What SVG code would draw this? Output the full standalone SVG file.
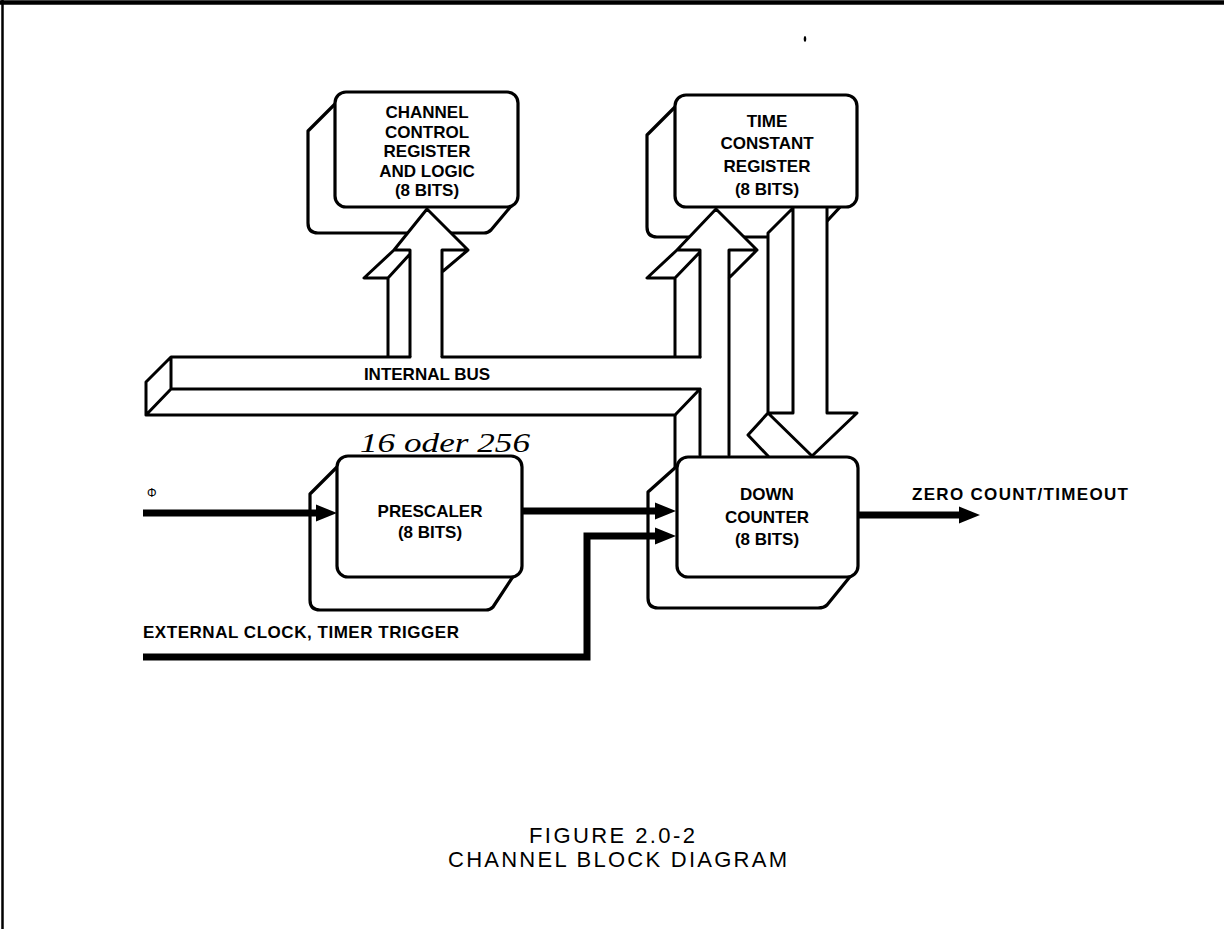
<svg xmlns="http://www.w3.org/2000/svg" width="1224" height="929" viewBox="0 0 1224 929">
<defs>
<style>
.ln{fill:none;stroke:#000;stroke-width:3;stroke-linejoin:round;stroke-linecap:round}
.wf{fill:#fff;stroke:none}
.box{fill:#fff;stroke:#000;stroke-width:3.2;stroke-linejoin:round}
.thick{fill:none;stroke:#000;stroke-width:7;stroke-linejoin:miter}
.lbl{font-family:"Liberation Sans",Arial,sans-serif;font-weight:bold;font-size:17px;fill:#000}
.mid{text-anchor:middle}
.cap{font-family:"Liberation Sans",Arial,sans-serif;font-size:22px;fill:#000}
.hand{font-family:"Liberation Serif","DejaVu Serif",serif;font-style:italic;font-size:27px;fill:#000}
</style>
<marker id="ah" markerUnits="userSpaceOnUse" markerWidth="24" markerHeight="20" viewBox="0 -10 24 20" refX="1" refY="0" orient="auto">
<path d="M0,-8.5 L21,0 L0,8.5 z" fill="#000"/>
</marker>
</defs>
<rect x="0" y="0" width="1224" height="929" fill="#fff"/>
<g id="frame">
<path d="M0,2.5 H1224" stroke="#000" stroke-width="4.5"/>
<path d="M2.5,0 V929" stroke="#000" stroke-width="2.5"/>
<ellipse cx="805" cy="39" rx="1.3" ry="3" fill="#000"/>
</g>

<g id="channel-control">
<path class="box" d="M341,98 L308,131 L308,223 Q308,233 318,233 L484,233 Q488,233 491,230 L512,205 Z"/>
<rect class="box" x="335" y="92" width="183" height="115" rx="11"/>
<text class="lbl mid" x="427" y="118">CHANNEL</text>
<text class="lbl mid" x="427" y="138">CONTROL</text>
<text class="lbl mid" x="427" y="157">REGISTER</text>
<text class="lbl mid" x="427" y="177">AND LOGIC</text>
<text class="lbl mid" x="427" y="196">(8 BITS)</text>
</g>

<g id="time-constant">
<path class="box" d="M681,101 L647,135 L647,227 Q647,237 657,237 L806,237 Q812,237 815,234 L842,205 Z"/>
<rect class="box" x="675" y="95" width="182" height="112" rx="11"/>
<text class="lbl mid" x="767" y="127">TIME</text>
<text class="lbl mid" x="767" y="149">CONSTANT</text>
<text class="lbl mid" x="767" y="172">REGISTER</text>
<text class="lbl mid" x="767" y="195">(8 BITS)</text>
</g>

<g id="prescaler">
<path class="box" d="M344,460 L310,494 L310,600 Q310,610 320,610 L486,610 Q490,610 493,607 L514,575 Z"/>
<rect class="box" x="337" y="456" width="185" height="121" rx="11"/>
<text class="lbl mid" x="430" y="517">PRESCALER</text>
<text class="lbl mid" x="430" y="538">(8 BITS)</text>
<text class="hand" x="360" y="452" textLength="170" lengthAdjust="spacingAndGlyphs">16 oder 256</text>
</g>

<g id="down-counter">
<path class="box" d="M686,458 L648,492 L648,598 Q648,608 658,608 L818,608 Q824,608 827,605 L853,573 Z"/>
<rect class="box" x="677" y="457" width="181" height="120" rx="11"/>
<text class="lbl mid" x="767" y="500">DOWN</text>
<text class="lbl mid" x="767" y="523">COUNTER</text>
<text class="lbl mid" x="767" y="545">(8 BITS)</text>
</g>

<g id="connectors">
<polygon class="wf" points="427,209 468,250 442,272 442,357 388,357 388,278 364,278 394,250"/>
<path class="ln" d="M394,250 L427,209 L468,250 L442,272 M442,250 H468 M442,250 V357 M410,250 V357 M394,250 H410 M394,250 L364,278 H388 L410,254 M388,278 V357"/>
<polygon class="wf" points="716,209 757,250 729,278 729,455 675,455 675,278 647,278 677,250"/>
<path class="ln" d="M677,250 L716,209 L757,250 L729,278 M729,250 H757 M729,250 V455 M700,250 V357 M700,389 V455 M677,250 H700 M677,250 L647,278 H675 L700,252 M675,278 V357 M675,415 V467"/>
<polygon class="wf" points="793,209 827,209 827,413 857,413 812,455 769,455 748,435 768,413 768,233"/>
<path class="ln" d="M793,208 V413 H768 V233 Z M827,208 V413 H857 L812,456 M768,413 L812,456 M768,413 L748,435 L768,456"/>
<path class="thick" d="M143,513 H317" marker-end="url(#ah)"/>
<path class="thick" d="M522,511 H656" marker-end="url(#ah)"/>
<path class="thick" d="M143,657 H587 V536 H656" marker-end="url(#ah)"/>
<path class="thick" d="M858,515 H960" marker-end="url(#ah)"/>
</g>

<g id="internal-bus">
<polygon class="wf" points="171,357 700,357 700,389 675,415 146,415 146,382"/>
<path class="ln" d="M171,357 H410 M442,357 H700 M171,357 V389 H700 L675,415 H146 V382 L171,357 M171,389 L146,415"/>
<text class="lbl mid" x="427" y="380">INTERNAL BUS</text>
</g>

<g id="labels">
<text x="147" y="497" font-family="Liberation Sans, Arial, sans-serif" font-size="12" fill="#000">Φ</text>
<text class="lbl" x="912" y="500" textLength="216">ZERO COUNT/TIMEOUT</text>
<text class="lbl" x="143" y="638" textLength="316">EXTERNAL CLOCK, TIMER TRIGGER</text>
<text class="cap" x="529" y="843" textLength="166">FIGURE 2.0-2</text>
<text class="cap" x="448" y="867" textLength="339">CHANNEL BLOCK DIAGRAM</text>
</g>
</svg>
